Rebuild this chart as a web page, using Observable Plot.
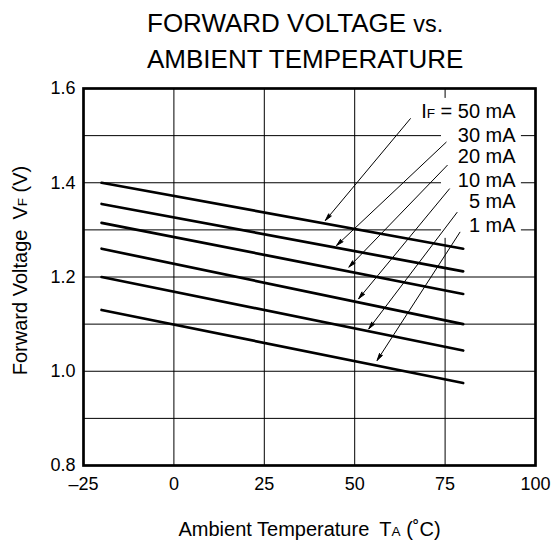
<!DOCTYPE html>
<html>
<head>
<meta charset="utf-8">
<script src="https://cdn.jsdelivr.net/npm/d3@7"></script>
<script src="https://cdn.jsdelivr.net/npm/@observablehq/plot@0.6"></script>
<style>
  html, body { margin: 0; padding: 0; background: white; }
  #title { font-family: 'Liberation Sans', Arial, sans-serif; font-size: 26px; line-height: 35px;
           padding: 6px 0 0 147px; color: black; height: 68px; white-space: nowrap; }
  #title .vs { font-size: 0.9em; }
  svg text { white-space: pre; }
</style>
</head>
<body>
<div id="title">FORWARD VOLTAGE <span class="vs">vs.</span><br>AMBIENT TEMPERATURE</div>
<div id="chart"></div>
<script>
// ---- data ----
const currents = ["50 mA", "30 mA", "20 mA", "10 mA", "5 mA", "1 mA"];
const temps = [-20, 80];                                  // line ends (°C)
const vStart = [1.40, 1.355, 1.315, 1.26, 1.20, 1.13];    // VF at -20 °C
const vEnd   = [1.26, 1.212, 1.164, 1.10, 1.044, 0.975];  // VF at 80 °C

const xTicks = [-25, 0, 25, 50, 75, 100];
const yTicks = [0.8, 1.0, 1.2, 1.4, 1.6];
const yGrid  = [0.9, 1.0, 1.1, 1.2, 1.3, 1.4, 1.5];

// annotation labels and arrows (data units)
const labelTexts = ["IF = 50 mA", "30 mA", "20 mA", "10 mA", "5 mA", "1 mA"];
const labelT = 94.5;
const labelV = [1.55, 1.50, 1.455, 1.405, 1.36, 1.31];
const arrowT1 = [65.4, 75.3, 75.6, 76.2, 78.3, 79.1];
const arrowV1 = [1.536, 1.486, 1.437, 1.387, 1.337, 1.295];
const arrowT2 = [41.9, 45.0, 48.4, 51.1, 53.9, 56.2];
const arrowV2 = [1.32, 1.267, 1.221, 1.154, 1.09, 1.023];
const labelBox = {t1: 74.0, t2: 96.1, v1: 1.282, v2: 1.579};

const xLabel = "Ambient Temperature\u2002TA (˚C)";
const yLabel = "Forward Voltage\u2002VF (V)";

// ---- tables built from the arrays ----
const lineData = currents.flatMap((c, i) => [
  {current: c, t: temps[0], v: vStart[i]},
  {current: c, t: temps[1], v: vEnd[i]}
]);
const labels = labelTexts.map((s, i) => ({label: s, t: labelT, v: labelV[i]}));
const arrows = currents.map((c, i) => ({x1: arrowT1[i], y1: arrowV1[i], x2: arrowT2[i], y2: arrowV2[i]}));

const font = "'Liberation Sans', Arial, sans-serif";

const chart = Plot.plot({
  width: 554,
  height: 468,
  marginTop: 14,
  marginBottom: 77,
  marginLeft: 83,
  marginRight: 19,
  x: {domain: [-25, 100], label: null},
  y: {domain: [0.8, 1.6], label: null},
  style: {fontFamily: font, fontSize: "18px", color: "black", background: "white"},
  marks: [
    Plot.gridX(xTicks, {stroke: "black", strokeOpacity: 1, strokeWidth: 1}),
    Plot.gridY(yGrid, {stroke: "black", strokeOpacity: 1, strokeWidth: 1}),
    Plot.rect([labelBox], {x1: "t1", x2: "t2", y1: "v1", y2: "v2", fill: "white"}),
    Plot.line(lineData, {x: "t", y: "v", z: "current", stroke: "black", strokeWidth: 2.7}),
    Plot.arrow(arrows, {x1: "x1", y1: "y1", x2: "x2", y2: "y2", stroke: "black", fill: "black",
                        strokeWidth: 1, headLength: 11, headAngle: 28}),
    Plot.text(labels, {x: "t", y: "v", text: "label", textAnchor: "end", lineAnchor: "middle",
                       fontSize: 20, fill: "black"}),
    Plot.frame({stroke: "black", strokeWidth: 2.7}),
    Plot.axisX(xTicks, {tickSize: 0, tickPadding: 12, fontSize: 18, label: null,
                        tickFormat: d => d < 0 ? "\u2013" + (-d) : String(d)}),
    Plot.axisY(yTicks, {tickSize: 0, tickPadding: 8, fontSize: 18, label: null,
                        tickFormat: d3.format(".1f")}),
    Plot.text([xLabel], {frameAnchor: "bottom", dy: 64, fontSize: 20, lineAnchor: "middle",
                         textAnchor: "middle", fill: "black"}),
    Plot.text([yLabel], {frameAnchor: "left", rotate: -90, dx: -63, dy: -6.5, fontSize: 20,
                         lineAnchor: "middle", textAnchor: "middle", fill: "black"})
  ]
});

document.getElementById("chart").appendChild(chart);

// filled arrowheads (the open head subpath fills as a triangle)
d3.select(chart).selectAll('g[aria-label="arrow"], g[aria-label="arrow"] path').attr("fill", "black");

// small-cap subscripts (IF, VF, TA)
function subscript(el, pre, sub, post) {
  el.textContent = "";
  el.appendChild(document.createTextNode(pre));
  const ts = document.createElementNS("http://www.w3.org/2000/svg", "tspan");
  ts.setAttribute("font-size", "0.68em");
  ts.textContent = sub;
  el.appendChild(ts);
  el.appendChild(document.createTextNode(post));
}
d3.select(chart).selectAll("text").each(function () {
  const s = this.textContent;
  if (s === "IF = 50 mA") subscript(this, "I", "F", " = 50 mA");
  else if (s === yLabel) subscript(this, "Forward Voltage\u2002V", "F", " (V)");
  else if (s === xLabel) subscript(this, "Ambient Temperature\u2002T", "A", " (˚C)");
});
</script>
</body>
</html>
